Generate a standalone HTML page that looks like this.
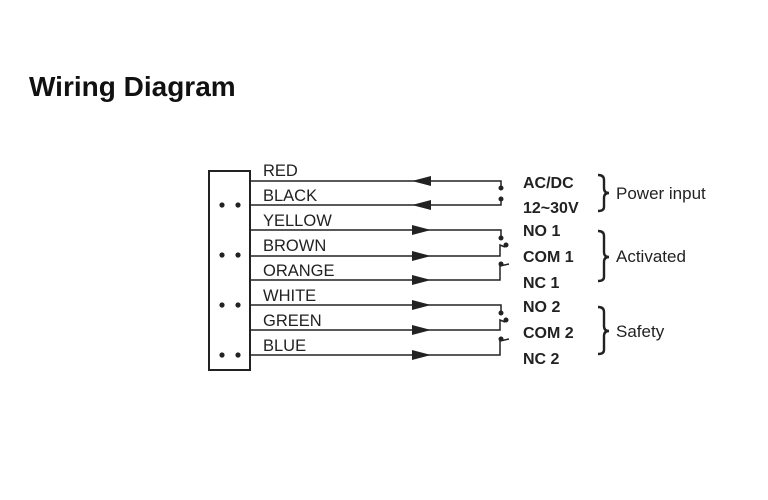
<!DOCTYPE html>
<html><head><style>body{margin:0;background:#fff}</style></head><body>
<svg width="768" height="500" xmlns="http://www.w3.org/2000/svg" style="display:block">
<text x="29" y="96" font-family="Liberation Sans, sans-serif" font-weight="bold" font-size="28" fill="#111">Wiring Diagram</text>
<rect x="209" y="171" width="41" height="199" fill="none" stroke="#222" stroke-width="2"/>
<g fill="#222">
<circle cx="222" cy="205" r="2.6"/><circle cx="238" cy="205" r="2.6"/>
<circle cx="222" cy="255" r="2.6"/><circle cx="238" cy="255" r="2.6"/>
<circle cx="222" cy="305" r="2.6"/><circle cx="238" cy="305" r="2.6"/>
<circle cx="222" cy="355" r="2.6"/><circle cx="238" cy="355" r="2.6"/>
</g>
<g font-family="Liberation Sans, sans-serif" font-size="16.5" fill="#222">
<text x="263" y="176">RED</text><text x="263" y="201">BLACK</text><text x="263" y="226">YELLOW</text>
<text x="263" y="251">BROWN</text><text x="263" y="276">ORANGE</text><text x="263" y="301">WHITE</text>
<text x="263" y="326">GREEN</text><text x="263" y="351">BLUE</text>
</g>
<g stroke="#222" stroke-width="1.5" fill="none">
<path d="M250 181H501V187"/><path d="M250 205H501V199"/>
<path d="M250 230H501V238"/><path d="M250 256H500V245L505 247"/><path d="M250 280H500V266L509 264"/>
<path d="M250 305H501V313"/><path d="M250 330H500V320L505 322"/><path d="M250 355H500V341L509 339"/>
</g>
<g fill="#222">
<polygon points="412,181 431,176 431,186"/><polygon points="412,205 431,200 431,210"/>
<polygon points="431,230 412,225 412,235"/><polygon points="431,256 412,251 412,261"/>
<polygon points="431,280 412,275 412,285"/><polygon points="431,305 412,300 412,310"/>
<polygon points="431,330 412,325 412,335"/><polygon points="431,355 412,350 412,360"/>
<circle cx="501" cy="188" r="2.5"/><circle cx="501" cy="199" r="2.5"/>
<circle cx="501" cy="238" r="2.5"/><circle cx="506" cy="245" r="2.5"/><circle cx="501" cy="264" r="2.5"/>
<circle cx="501" cy="313" r="2.5"/><circle cx="506" cy="320" r="2.5"/><circle cx="501" cy="339" r="2.5"/>
</g>
<g font-family="Liberation Sans, sans-serif" font-size="16" font-weight="bold" fill="#222">
<text x="523" y="188">AC/DC</text><text x="523" y="213">12~30V</text>
<text x="523" y="236">NO 1</text><text x="523" y="262">COM 1</text><text x="523" y="288">NC 1</text>
<text x="523" y="312">NO 2</text><text x="523" y="338">COM 2</text><text x="523" y="364">NC 2</text>
</g>
<g stroke="#222" stroke-width="2.4" fill="none">
<path d="M598 175Q604 175 604 180V188Q604 193 609 193Q604 193 604 198V207Q604 211 598 211"/>
<path d="M598 231Q604 231 604 236V252Q604 257 609 257Q604 257 604 262V277Q604 281 598 281"/>
<path d="M598 307Q604 307 604 312V326Q604 331 609 331Q604 331 604 336V350Q604 354 598 354"/>
</g>
<g font-family="Liberation Sans, sans-serif" font-size="17" fill="#222">
<text x="616" y="199">Power input</text><text x="616" y="262">Activated</text><text x="616" y="337">Safety</text>
</g>
</svg>
</body></html>
